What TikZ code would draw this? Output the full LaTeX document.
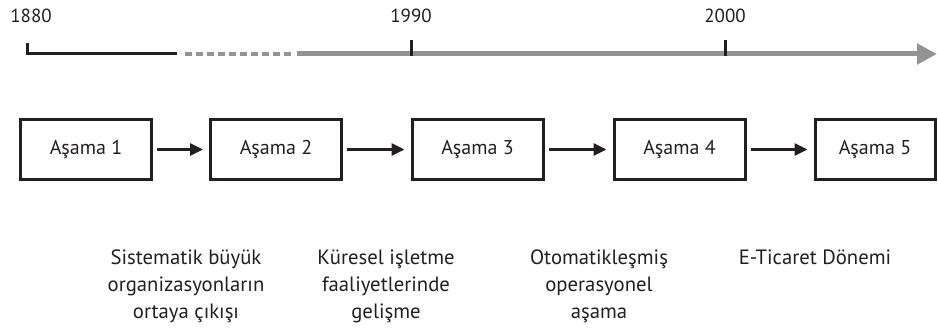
\documentclass[tikz,border=0pt]{standalone}
\usepackage{fontspec}
\setmainfont{PT Sans}
\usetikzlibrary{arrows.meta}
\definecolor{tlgray}{HTML}{939393}
\definecolor{ink}{HTML}{231F20}
\begin{document}
\begin{tikzpicture}[x=1pt,y=-1pt,
  stagebox/.style={draw=ink,line width=3pt,minimum width=131pt,minimum height=60pt,inner sep=0pt,
    font=\fontsize{20}{24}\selectfont,text=ink},
  flow/.style={draw=ink,line width=3pt,-{Triangle[length=13pt,width=12pt]},shorten <=4pt,shorten >=6pt},
  year/.style={font=\fontsize{19}{22}\selectfont,text=ink,inner sep=0pt,anchor=base},
  tick/.style={draw=ink,line width=3pt},
  caption/.style={font=\fontsize{20.7}{27}\selectfont,text=ink,align=center,inner sep=0pt,anchor=base}]
\useasboundingbox (0,0) rectangle (938,329);
% timeline
\coordinate (t0top) at (27,43);
\coordinate (t0) at (27,54);
\coordinate (t1) at (177,54);
\coordinate (d0) at (185,54);
\coordinate (d1) at (295,54);
\coordinate (s0) at (297,54);
\coordinate (s1) at (937,54);
\draw[tlgray,line width=5pt,-{Triangle[length=20pt,width=20pt]}] (s0) -- (s1);
\draw[tlgray,line width=3.5pt,dash pattern=on 6.5pt off 4.5pt] (d0) -- (d1);
\draw[ink,line width=3pt] (t0top) -- (t0) -- (t1);
\coordinate (k1a) at (411,40); \coordinate (k1b) at (411,56);
\coordinate (k2a) at (725,40); \coordinate (k2b) at (725,56);
\draw[tick] (k1a) -- (k1b);
\draw[tick] (k2a) -- (k2b);
\node[year] (y1880) at (31,23) {1880};
\node[year] (y1990) at (411,23) {1990};
\node[year] (y2000) at (725,23) {2000};
% stages
\node[stagebox] (b1) at (86,149.5) {Aşama 1};
\node[stagebox] (b2) at (276,149.5) {Aşama 2};
\node[stagebox] (b3) at (477.5,149.5) {Aşama 3};
\node[stagebox] (b4) at (679.5,149.5) {Aşama 4};
\node[stagebox,minimum width=120pt] (b5) at (875,149.5) {Aşama 5};
\draw[flow] (b1) -- (b2);
\draw[flow] (b2) -- (b3);
\draw[flow] (b3) -- (b4);
\draw[flow] (b4) -- (b5);
% captions
\node[caption] (c1) at (186,318) {Sistematik büyük\\organizasyonların\\ortaya çıkışı};
\node[caption] (c2) at (386,318) {Küresel işletme\\faaliyetlerinde\\gelişme};
\node[caption] (c3) at (599,318) {Otomatikleşmiş\\operasyonel\\aşama};
\node[caption] (c4) at (815,264) {E-Ticaret Dönemi};
\end{tikzpicture}
\end{document}
